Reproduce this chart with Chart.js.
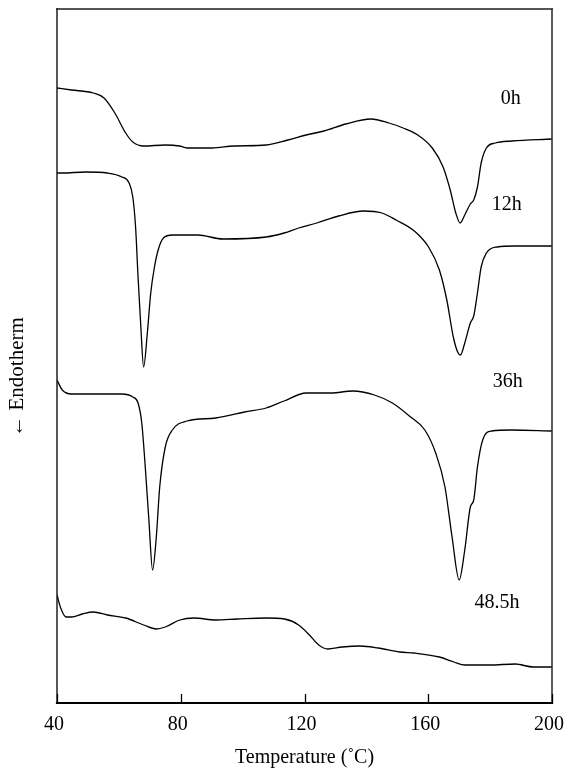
<!DOCTYPE html>
<html>
<head>
<meta charset="utf-8">
<script src="https://cdn.jsdelivr.net/npm/chart.js@4.4.1/dist/chart.umd.min.js"></script>
<style>
  html, body { margin: 0; padding: 0; background: #ffffff; }
  #wrap { width: 565px; height: 769px; }
</style>
</head>
<body>
<div id="wrap"><canvas id="c" width="565" height="769"></canvas></div>
<script>
// ---- Data (temperature in °C, heat flow in arbitrary units, curves offset) ----
const xTicks = [40, 80, 120, 160, 200];

const t0h = [40, 44.7, 51.7, 55.2, 58.7, 62.2, 64.5, 68, 75, 79.6, 82, 90.1, 97.1, 107.6, 114.6, 120.5, 126.3, 133.3, 141.5, 147.3, 151.9, 156.6, 161.3, 164.8, 167.1, 168.9, 170.3, 171.8, 173.6, 174.7, 175.9, 177.1, 178.8, 181.7, 187, 200];
const v0h = [61.5, 61.3, 61.0, 60.5, 59.0, 57.0, 56.1, 55.7, 55.8, 55.7, 55.5, 55.5, 55.7, 55.8, 56.3, 56.8, 57.2, 57.9, 58.4, 58.0, 57.5, 56.8, 55.5, 53.6, 51.3, 49.0, 48.0, 48.8, 49.9, 50.3, 51.6, 54.0, 55.5, 56.0, 56.2, 56.4];

const t12h = [40, 41.7, 49.3, 56.3, 61, 63.3, 64.5, 65.4, 66.2, 67.1, 68, 69.2, 70.3, 71.5, 72.7, 74.4, 77.3, 85.5, 93.6, 107.6, 113.4, 118.1, 124, 131, 139.1, 145, 149.6, 155.5, 160.1, 163.6, 166, 168.1, 169.5, 170.4, 171.8, 173.6, 174.7, 175.9, 177.1, 178.8, 182.3, 188.1, 200];
const v12h = [53.0, 53.0, 53.1, 53.0, 52.6, 52.0, 50.6, 47.6, 42.6, 37.6, 33.6, 37.0, 41.0, 43.6, 45.3, 46.5, 46.8, 46.8, 46.4, 46.6, 47.0, 47.5, 48.0, 48.7, 49.2, 49.0, 48.3, 47.2, 45.6, 43.3, 40.3, 36.6, 35.1, 34.8, 36.0, 38.0, 38.7, 41.0, 43.6, 45.0, 45.6, 45.7, 45.7];

const t36h = [40, 41.7, 44.7, 51.7, 61, 64.5, 66.2, 67.4, 68.6, 69.7, 70.9, 72.1, 73.2, 75, 77.3, 82, 91.3, 100.6, 107.6, 113.4, 120.5, 128.6, 135.6, 142.6, 148.4, 154.3, 158.9, 162.4, 165.4, 167.7, 170, 171.8, 173.6, 174.7, 175.9, 177.6, 180.5, 187, 200];
const v36h = [32.3, 31.3, 30.9, 30.9, 30.9, 30.6, 30.0, 28.0, 23.3, 18.3, 13.3, 16.6, 21.6, 25.6, 27.3, 28.2, 28.5, 29.1, 29.5, 30.2, 31.0, 31.0, 31.2, 30.8, 30.0, 28.6, 27.3, 25.0, 21.6, 16.6, 12.3, 15.3, 19.6, 20.3, 23.6, 26.3, 27.2, 27.3, 27.2];

const t48h = [40, 41.2, 42.9, 44.7, 48.2, 51.7, 56.3, 62.2, 68, 72.1, 75, 79.7, 84.3, 91.3, 98.3, 107.6, 113.5, 118.1, 121.6, 124.6, 127.5, 132.2, 138, 143.8, 150.8, 155.5, 163.6, 168.3, 171.8, 179.9, 188.1, 193.9, 200];
const v48h = [10.8, 9.5, 8.6, 8.6, 8.9, 9.1, 8.8, 8.5, 7.8, 7.4, 7.6, 8.3, 8.5, 8.3, 8.4, 8.5, 8.4, 7.8, 6.8, 5.8, 5.4, 5.6, 5.7, 5.5, 5.1, 5.0, 4.6, 4.1, 3.8, 3.8, 3.9, 3.6, 3.6];

const seriesNames = ['0h', '12h', '36h', '48.5h'];
const labelT = [186.7, 185.4, 185.7, 182.2];
const labelV = [60.4, 49.8, 32.1, 10.0];

// ---- Build chart ----
const SERIF = '"Liberation Serif", "Times New Roman", serif';
const pairs = (xs, ys) => xs.map((x, i) => ({ x: x, y: ys[i] }));
const allT = [t0h, t12h, t36h, t48h];
const allV = [v0h, v12h, v36h, v48h];

const datasets = seriesNames.map((name, i) => ({
  label: name,
  data: pairs(allT[i], allV[i]),
  borderColor: '#000000',
  borderWidth: 1.3,
  pointRadius: 0,
  fill: false,
  cubicInterpolationMode: 'monotone'
}));

const framePlugin = {
  id: 'frame',
  afterDatasetsDraw(chart) {
    const { ctx, chartArea: a, scales } = chart;
    ctx.save();
    ctx.lineCap = 'square';
    // top
    ctx.strokeStyle = '#555555'; ctx.lineWidth = 1.8;
    ctx.beginPath(); ctx.moveTo(a.left, a.top); ctx.lineTo(a.right, a.top); ctx.stroke();
    // right
    ctx.strokeStyle = '#333333'; ctx.lineWidth = 1.6;
    ctx.beginPath(); ctx.moveTo(a.right, a.top); ctx.lineTo(a.right, a.bottom); ctx.stroke();
    // left
    ctx.strokeStyle = '#111111'; ctx.lineWidth = 1.4;
    ctx.beginPath(); ctx.moveTo(a.left, a.top); ctx.lineTo(a.left, a.bottom); ctx.stroke();
    // bottom axis
    ctx.strokeStyle = '#000000'; ctx.lineWidth = 2.2;
    ctx.beginPath(); ctx.moveTo(a.left, a.bottom); ctx.lineTo(a.right, a.bottom); ctx.stroke();
    // inner ticks
    ctx.lineWidth = 1.3; ctx.lineCap = 'butt';
    xTicks.forEach(v => {
      const px = Math.round(scales.x.getPixelForValue(v)) + 0.5;
      ctx.beginPath(); ctx.moveTo(px, a.bottom); ctx.lineTo(px, a.bottom - 9); ctx.stroke();
    });
    // curve labels
    ctx.fillStyle = '#000000';
    ctx.font = '20px ' + SERIF;
    ctx.textAlign = 'center';
    ctx.textBaseline = 'middle';
    seriesNames.forEach((n, i) => {
      ctx.fillText(n, scales.x.getPixelForValue(labelT[i]), scales.y.getPixelForValue(labelV[i]));
    });
    ctx.restore();
  }
};

new Chart(document.getElementById('c'), {
  type: 'line',
  data: { datasets: datasets },
  options: {
    responsive: false,
    animation: false,
    devicePixelRatio: 1,
    layout: { padding: { top: 9, right: 13, left: 0, bottom: 0 } },
    plugins: { legend: { display: false }, tooltip: { enabled: false } },
    scales: {
      x: {
        type: 'linear',
        min: 40, max: 200,
        afterBuildTicks(scale) { scale.ticks = xTicks.map(v => ({ value: v })); },
        afterFit(scale) { scale.height = 66; scale.paddingLeft = 0; scale.paddingRight = 0; },
        grid: { display: false, drawTicks: false },
        border: { display: false },
        ticks: {
          color: '#000000',
          font: { family: SERIF, size: 20, lineHeight: 1 },
          padding: 12,
          labelOffset: -3,
          maxRotation: 0
        },
        title: {
          display: true,
          text: 'Temperature (˚C)',
          color: '#000000',
          font: { family: SERIF, size: 20, lineHeight: 1 },
          padding: { top: 0, bottom: 1 }
        }
      },
      y: {
        type: 'linear',
        min: 0, max: 69.4,
        afterFit(scale) { scale.width = 57; scale.paddingTop = 0; scale.paddingBottom = 0; },
        grid: { display: false, drawTicks: false },
        border: { display: false },
        ticks: { display: false },
        title: {
          display: true,
          text: '← Endotherm\u2003\u2003',
          color: '#000000',
          font: { family: SERIF, size: 21, lineHeight: 1 },
          padding: { top: 7, bottom: 0 }
        }
      }
    }
  },
  plugins: [framePlugin]
});
</script>
</body>
</html>
